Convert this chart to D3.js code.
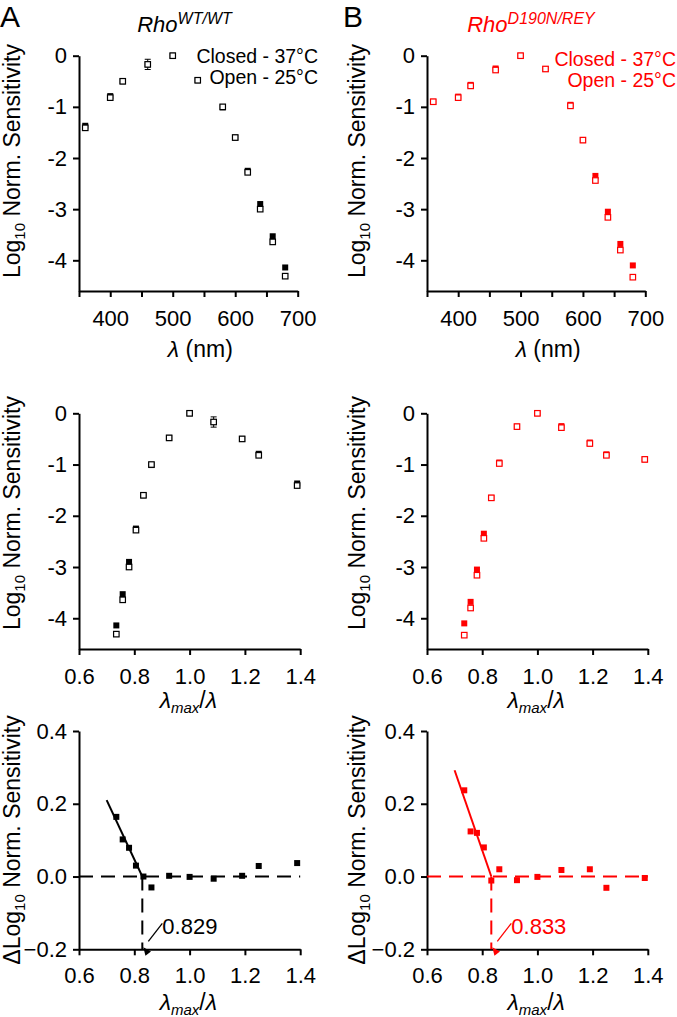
<!DOCTYPE html>
<html><head><meta charset="utf-8">
<script src="https://cdn.jsdelivr.net/npm/d3@7"></script>
<style>body{margin:0;background:#fff}svg{display:block;font-family:"Liberation Sans",Arial,sans-serif}</style>
</head><body>
<svg id="c" width="677" height="1017"></svg>
<script>
// ---- data ----
const wavelength = [360,400,420,460,500,540,580,600,620,640,660,680];
const ratio      = [1.389,1.250,1.190,1.087,1.000,0.926,0.862,0.833,0.806,0.781,0.758,0.735];
const wtClosed   = [-1.37,-0.79,-0.50,-0.17,0,-0.48,-1.01,-1.60,-2.25,-2.90,-3.53,-4.14];
const wtOpen     = [-1.41,-0.82,-0.50,-0.17,0,-0.48,-1.00,-1.60,-2.28,-3.00,-3.64,-4.31];
const wtOpenErr  = [0,0,0,0.10,0,0,0,0,0,0,0,0];
const mutClosed  = [-0.90,-0.80,-0.57,-0.25,0,-0.26,-0.96,-1.65,-2.35,-3.05,-3.68,-4.10];
const mutOpen    = [-0.90,-0.82,-0.59,-0.28,0,-0.26,-0.98,-1.65,-2.44,-3.16,-3.80,-4.33];
const mutOpenErr = [0,0,0.04,0,0,0,0,0,0,0,0,0];
const ratioAsc   = [0.735,0.758,0.781,0.806,0.833,0.862,0.926,1.000,1.087,1.190,1.250,1.389];
const wtDelta    = [0.164,0.102,0.079,0.030,0.000,-0.030,0.002,-0.001,-0.006,0.002,0.029,0.037];
const mutDelta   = [0.237,0.124,0.120,0.080,-0.011,0.020,-0.010,-0.001,0.018,0.020,-0.031,-0.004];
const wtFit      = [[0.70,0.21],[0.829,0]];
const mutFit     = [[0.70,0.292],[0.833,0]];
const wtCross = 0.829, mutCross = 0.833;
const wlTicks = [350,400,450,500,550,600,650,700];
const wlLabels = [400,500,600,700];
const logTicks = [0,-1,-2,-3,-4];
const ratioTicks = [0.6,0.8,1.0,1.2,1.4];
const deltaTicks = [-0.2,0,0.2,0.4];
const legendLabels = ["Closed - 37°C","Open - 25°C"];

const RED = "#ff0000", BLK = "#000";
const svg = d3.select("#c");
const FS = 22, TS = 23;

function axes(x, y, xt, yt, xfmt, yfmt, xpad){
  const yb = Math.max(...y.range());
  const gx = svg.append("g").attr("transform",`translate(0,${yb})`)
    .call(d3.axisBottom(x).tickValues(xt).tickSize(6).tickSizeOuter(0).tickPadding(xpad).tickFormat(xfmt));
  const gy = svg.append("g").attr("transform",`translate(${x.range()[0]},0)`)
    .call(d3.axisLeft(y).tickValues(yt).tickSize(6).tickSizeOuter(0).tickPadding(6).tickFormat(yfmt));
  [gx,gy].forEach(g=>{
    g.select(".domain").attr("stroke","#000").attr("stroke-width",2);
    g.selectAll(".tick line").attr("stroke","#000").attr("stroke-width",2);
    g.selectAll(".tick text").attr("fill","#000").style("font-size",FS+"px").style("font-family","Liberation Sans, Arial, sans-serif");
  });
}

function yTitle(xb, cy, delta){
  const t = svg.append("text").attr("transform",`translate(${xb},${cy}) rotate(-90)`)
    .attr("text-anchor","middle").style("font-size",TS+"px").attr("fill","#000");
  t.append("tspan").text((delta?"Δ":"")+"Log");
  t.append("tspan").text("10").style("font-size","15px").attr("dy",5);
  t.append("tspan").text(" Norm. Sensitivity").attr("dy",-5);
}
function ratioTitle(cx, by){
  const t = svg.append("text").attr("x",cx).attr("y",by).attr("text-anchor","middle").style("font-size",TS+"px");
  t.append("tspan").text("λ").style("font-style","italic");
  t.append("tspan").text("max").style("font-style","italic").style("font-size","15px").attr("dy",5);
  t.append("tspan").text("/").attr("dy",-5);
  t.append("tspan").text("λ").style("font-style","italic");
}
function squares(xs, ys, x, y, col, hollow, err){
  if(err){
    xs.forEach((xv,i)=>{ if(err[i]>0){
      const cx=x(xv), y1=y(ys[i]+err[i]), y2=y(ys[i]-err[i]);
      svg.append("line").attr("x1",cx).attr("x2",cx).attr("y1",y1).attr("y2",y2).attr("stroke",col).attr("stroke-width",1);
      [y1,y2].forEach(yy=>svg.append("line").attr("x1",cx-3).attr("x2",cx+3).attr("y1",yy).attr("y2",yy).attr("stroke",col).attr("stroke-width",1));
    }});
  }
  const s = hollow?5.5:6;
  svg.append("g").selectAll("rect").data(xs.map((d,i)=>[d,ys[i]])).join("rect")
    .attr("x",d=>x(d[0])-s/2).attr("y",d=>y(d[1])-s/2).attr("width",s).attr("height",s)
    .attr("fill",hollow?"#fff":col).attr("stroke",hollow?col:"none").attr("stroke-width",1.2);
}

function panel(col, left, right, closed, open, openErr, delta, fit, cross, titleSup, titleCx, legendRight, legendBase, letter, letterX, titleBaseX){
  // top panel
  const x1 = d3.scaleLinear().domain([350,700]).range([left,right]);
  const y1 = d3.scaleLinear().domain([0,-4.6]).range([55.7,291]);
  axes(x1,y1,wlTicks,logTicks,d=>wlLabels.includes(d)?d:"",d=>d,13);
  squares(wavelength,closed,x1,y1,col,false);
  squares(wavelength,open,x1,y1,col,true,openErr);
  yTitle(titleBaseX,161,false);
  const xt = svg.append("text").attr("x",(left+right)/2+12).attr("y",357).attr("text-anchor","middle").style("font-size",TS+"px");
  xt.append("tspan").text("λ").style("font-style","italic"); xt.append("tspan").text(" (nm)");
  legendLabels.forEach((l,i)=>svg.append("text").attr("x",legendRight).attr("y",legendBase+20.5*i).attr("text-anchor","end")
     .style("font-size","19.5px").attr("fill",col).text(l));
  // title
  const tt = svg.append("text").attr("x",titleCx).attr("y",32).attr("text-anchor","middle").attr("fill",col)
    .style("font-size","22px").style("font-style","italic");
  tt.append("tspan").text("Rho");
  tt.append("tspan").text(titleSup).style("font-size","16px").attr("dy",-8);
  svg.append("text").attr("x",letterX).attr("y",27).style("font-size","30px").text(letter);

  // middle panel
  const x2 = d3.scaleLinear().domain([0.6,1.4]).range([left,right+2.5]);
  const y2 = d3.scaleLinear().domain([0,-4.6]).range([413.3,649]);
  axes(x2,y2,ratioTicks,logTicks,d3.format(".1f"),d=>d,13);
  squares(ratio,closed,x2,y2,col,false);
  squares(ratio,open,x2,y2,col,true,openErr);
  yTitle(titleBaseX,513,false);
  ratioTitle((left+right)/2,708);

  // bottom panel
  const x3 = x2.copy();
  const y3 = d3.scaleLinear().domain([-0.2,0.4]).range([949.3,731]);
  axes(x3,y3,ratioTicks,deltaTicks,d3.format(".1f"),d3.format(".1f"),12);
  svg.append("line").attr("x1",x3(0.6)).attr("x2",x3(1.4)).attr("y1",y3(0)).attr("y2",y3(0))
    .attr("stroke",col).attr("stroke-width",2).attr("stroke-dasharray","14,8");
  svg.append("line").attr("x1",x3(cross)).attr("x2",x3(cross)).attr("y1",y3(0)).attr("y2",y3(-0.2))
    .attr("stroke",col).attr("stroke-width",2).attr("stroke-dasharray","14,8");
  svg.append("line").attr("x1",x3(fit[0][0])).attr("y1",y3(fit[0][1])).attr("x2",x3(fit[1][0])).attr("y2",y3(fit[1][1]))
    .attr("stroke",col).attr("stroke-width",2);
  squares(ratioAsc,delta,x3,y3,col,false);
  yTitle(titleBaseX,840,true);
  ratioTitle((left+right)/2,1010);
  // annotation arrow
  const tx = x3(cross)+1, ty = y3(-0.2)-2;
  svg.append("line").attr("x1",tx+19).attr("y1",ty-24).attr("x2",tx+5).attr("y2",ty-6).attr("stroke",col).attr("stroke-width",1.3);
  const ang = Math.atan2(-18,-14);
  const ah = 8, aw = 3.5;
  const p = [[tx,ty],
    [tx - ah*Math.cos(ang) + aw*Math.sin(ang), ty - ah*Math.sin(ang) - aw*Math.cos(ang)],
    [tx - ah*Math.cos(ang) - aw*Math.sin(ang), ty - ah*Math.sin(ang) + aw*Math.cos(ang)]];
  svg.append("path").attr("d","M"+p.map(q=>q.join(",")).join("L")+"Z").attr("fill",col);
  svg.append("text").attr("x",x3(cross)+20).attr("y",y3(-0.2)-15).style("font-size",FS+"px").attr("fill",col)
    .text(d3.format(".3f")(cross));
}

panel(BLK,79,297.7,wtClosed,wtOpen,wtOpenErr,wtDelta,wtFit,wtCross,"WT/WT",184.5,318,63,"A",0,20);
panel(RED,427,645.3,mutClosed,mutOpen,mutOpenErr,mutDelta,mutFit,mutCross,"D190N/REY",531,676,66,"B",343,365);
</script>
</body></html>
